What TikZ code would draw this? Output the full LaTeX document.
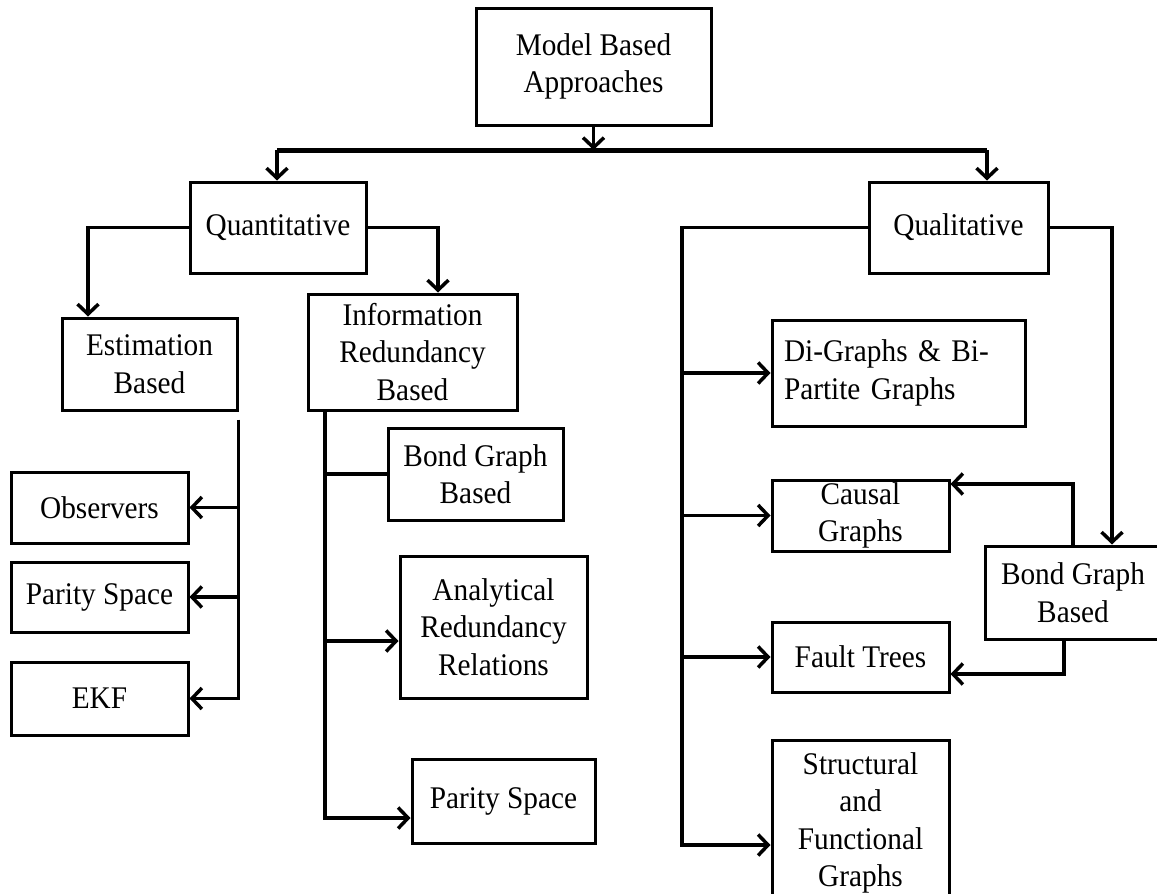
\documentclass[tikz,border=0pt]{standalone}
\usepackage{fontspec}
\setmainfont{Liberation Serif}[FakeStretch=0.93]
\usetikzlibrary{arrows.meta}
\begin{document}
\begin{tikzpicture}[x=1pt,y=-1pt,
  box/.style={draw, line width=3pt, rectangle, inner sep=0pt, align=center,
    font=\fontsize{31.5}{37.5}\selectfont},
  conn/.style={line width=3.5pt, -{Straight Barb[length=10pt,width=21pt]}},
  link/.style={line width=3.5pt},
  mainlink/.style={line width=5pt}]
\useasboundingbox (0,0) rectangle (1157,894);
% nodes
\node[box, minimum width=235pt, minimum height=117pt] (mba) at (593.5,66.5) {Model Based\\Approaches};
\node[box, minimum width=176pt, minimum height=91pt] (quant) at (278,227.5) {Quantitative};
\node[box, minimum width=179pt, minimum height=91pt] (qual) at (958.5,227.5) {Qualitative};
\node[box, minimum width=175pt, minimum height=92pt] (est) at (149.5,364) {Estimation\\Based};
\node[box, minimum width=209pt, minimum height=116pt] (info) at (412.5,352) {Information\\Redundancy\\Based};
\node[box, minimum width=177pt, minimum height=71pt] (obs) at (99.5,507.5) {Observers};
\node[box, minimum width=177pt, minimum height=70pt] (par1) at (99.5,597) {Parity Space};
\node[box, minimum width=177pt, minimum height=73pt] (ekf) at (99.5,698.5) {EKF};
\node[box, minimum width=175pt, minimum height=92pt] (bg1) at (475.5,474) {Bond Graph\\Based};
\node[box, minimum width=187pt, minimum height=142pt] (arr) at (493.5,627) {Analytical\\Redundancy\\Relations};
\node[box, minimum width=183pt, minimum height=84pt] (par2) at (503.5,801) {Parity Space};
\node[box, align=left, text width=229pt, inner xsep=12pt, minimum height=106pt] (di) at (898.5,373) {Di-Graphs \& Bi-\\Partite Graphs};
\node[box, minimum width=177pt, minimum height=71pt] (causal) at (860.5,515.5) {Causal\\Graphs};
\node[box, minimum width=177pt, minimum height=70pt] (fault) at (860.5,657) {Fault Trees};
\node[box, minimum width=177pt, minimum height=166pt] (struct) at (860.5,823) {Structural\\and\\Functional\\Graphs};
\node[box, minimum width=176pt, minimum height=93pt] (bg2) at (1073,592.5) {Bond Graph\\Based};
% helper coordinates
\coordinate (hl) at (277,150);
\coordinate (hr) at (987,150);
\coordinate (hm) at (594,150);
\coordinate (xe) at (88,0);
\coordinate (xi) at (438,0);
\coordinate (xv) at (325,0);
\coordinate (ya) at (0,641);
\coordinate (yp) at (0,818);
\coordinate (xq) at (682,0);
\coordinate (ys) at (0,845);
\coordinate (xb) at (1112,0);
\coordinate (yc) at (0,484);
\coordinate (xf) at (1064,0);
\coordinate (yf) at (0,674);
% connectors
\draw[conn] (mba.south) -- (mba.south |- hm);
\draw[mainlink] (hl) -- (hr);
\draw[conn] (hl) -- (hl |- quant.north);
\draw[conn] (hr) -- (hr |- qual.north);
\draw[conn] (quant.west) -| (xe |- est.north);
\draw[conn] (quant.east) -| (xi |- info.north);
% estimation branch
\draw[conn] ([yshift=-8pt]est.south east) |- (ekf.east);
\draw[conn] (est.south east |- obs.east) -- (obs.east);
\draw[conn] (est.south east |- par1.east) -- (par1.east);
% information redundancy branch
\draw[conn] (xv |- info.south) -- (xv |- yp) -- (par2.west |- yp);
\draw[link] (xv |- bg1.west) -- (bg1.west);
\draw[conn] (xv |- ya) -- (arr.west |- ya);
% qualitative branch
\draw[conn] (qual.west) -| (xq |- ys) -- (struct.west |- ys);
\draw[conn] (xq |- di.west) -- (di.west);
\draw[conn] (xq |- causal.west) -- (causal.west);
\draw[conn] (xq |- fault.west) -- (fault.west);
\draw[conn] (qual.east) -| (xb |- bg2.north);
\draw[conn] (bg2.north) |- (causal.east |- yc);
\draw[conn] (xf |- bg2.south) |- (fault.east |- yf);
\end{tikzpicture}
\end{document}
